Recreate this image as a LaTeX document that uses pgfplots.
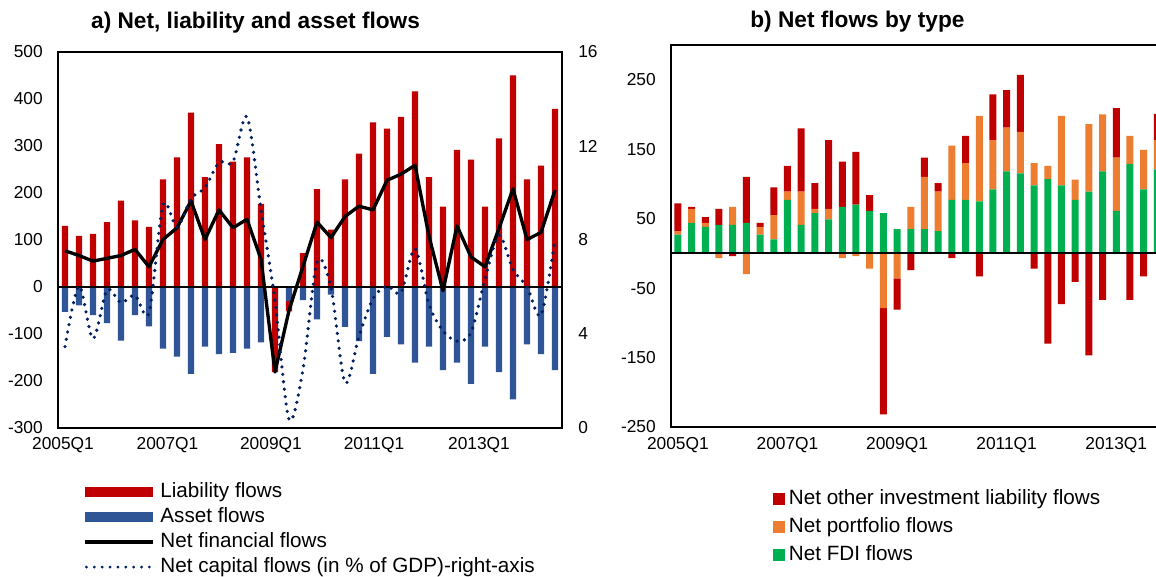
\documentclass[border=0pt]{standalone}
\usepackage{pgfplots}
\pgfplotsset{compat=1.18}
\usepackage{pgfplotstable}
\usepackage{fontspec}
\setmainfont{Liberation Sans}
\definecolor{lred}{HTML}{C00000}
\definecolor{lblue}{HTML}{2F5597}
\definecolor{lorange}{HTML}{ED7D31}
\definecolor{lgreen}{HTML}{00B050}
\definecolor{lnavy}{HTML}{002060}

\pgfplotstableread{
i liab asset net cap
0 130 -53 77 3.46
1 109 -39 67 6.04
2 113 -60 55 3.8
3 138 -77 61 5.87
4 184 -114 67 5.33
5 142 -60 80 5.65
6 128 -84 43 4.9
7 229 -131 101 9.49
8 276 -148 126 8.55
9 371 -185 183 9.76
10 234 -127 101 10.23
11 304 -143 164 11.3
12 267 -140 126 11.33
13 276 -131 144 13.25
14 177 -118 59 9.3
15 -181 0 -181 5.4
16 -22 -30 -50 0.37
17 72 -28 44 2.5
18 208 -69 138 7.06
19 122 -16 105 5.97
20 229 -85 150 1.93
21 284 -115 172 3.9
22 350 -185 164 5.5
23 337 -106 227 6.04
24 362 -122 240 5.76
25 416 -161 259 7.63
26 234 -127 108 5.26
27 171 -177 -8 4.13
28 292 -161 130 3.7
29 271 -206 64 4.06
30 171 -127 43 6.33
31 316 -181 125 8.2
32 450 -239 209 6.75
33 229 -122 101 6.01
34 258 -143 116 4.8
35 379 -177 206 8.03
}\lefttab

\pgfplotstableread{
i fdi port oth
0 27 5 40
1 44 20 3
2 38 6 8
3 41 -7 23
4 41 26 -4
5 44 -30 66
6 27 11 6
7 20 35 40
8 77 12 37
9 41 48 91
10 58 6 37
11 49 15 99
12 67 -7 65
13 70 -4 76
14 61 -22 23
15 58 -79 -153
16 35 -36 -45
17 35 32 -24
18 35 75 28
19 32 57 12
20 77 78 -7
21 77 53 39
22 75 123 -33
23 92 71 66
24 118 63 54
25 115 60 82
26 98 32 -22
27 107 19 -130
28 98 100 -73
29 77 29 -41
30 89 97 -147
31 118 82 -67
32 61 77 71
33 129 40 -67
34 92 57 -33
35 121 42 38
}\righttab

\pgfplotsset{
  basel/.style={scale only axis, width=378pt, height=282pt,
    at={(43.5pt,111.75pt)}, anchor=south west,
    xmin=-0.5, xmax=35.5, ymin=-300, ymax=500},
  baser/.style={scale only axis, width=369.9pt, height=286.5pt,
    at={(503.25pt,112.5pt)}, anchor=south west,
    xmin=-0.5, xmax=35.5, ymin=-250, ymax=300},
  ticks13/.style={major tick length=0pt,
    tick label style={font=\fontsize{13}{15}\selectfont, inner sep=0pt}},
}

\begin{document}
\begin{tikzpicture}
\path[use as bounding box] (0,0) rectangle (867pt,432.75pt);
\clip (0,0) rectangle (867pt,432.75pt);

% ---------- left panel ----------
\begin{axis}[basel, ticks13,
  axis line style={line width=1.5pt},
  ytick={-300,-200,...,500},
  yticklabels={-300,-200,-100,0,100,200,300,400,500},
  xtick={-0.14,7.32,14.71,22.07,29.57},
  xticklabels={2005Q1,2007Q1,2009Q1,2011Q1,2013Q1},
  yticklabel style={xshift=-11.25pt},
  xticklabel style={yshift=-6.75pt},
  title={a) Net, liability and asset flows},
  title style={font=\bfseries\fontsize{17}{20}\selectfont,
    at={(axis description cs:0.392,1.058)}, anchor=center, inner sep=0pt},
]
\addplot[ybar, bar width=4.7pt, bar shift=0pt, fill=lred, draw=none]
  table[x=i, y expr={max(\thisrow{liab},0)}] {\lefttab};
\end{axis}

\begin{axis}[basel, hide axis, ybar stacked, bar width=4.7pt]
\addplot[fill=lblue, draw=none] table[x=i, y=asset] {\lefttab};
\addplot[fill=lred, draw=none] table[x=i, y expr={min(\thisrow{liab},0)}] {\lefttab};
\end{axis}

\begin{axis}[basel, hide axis]
\addplot[black, line width=1pt] coordinates {(-0.5,0) (35.5,0)};
\addplot[black, line width=2.5pt, line join=round] table[x=i, y=net] {\lefttab};
\end{axis}

\begin{axis}[scale only axis, width=378pt, height=282pt,
  at={(43.5pt,111.75pt)}, anchor=south west,
  xmin=-0.5, xmax=35.5, ymin=0, ymax=16, ticks13,
  axis y line*=right, axis x line=none,
  axis line style={draw=none},
  ytick={0,4,8,12,16}, yticklabels={0,4,8,12,16},
  yticklabel style={xshift=12pt},
  legend cell align=left,
  legend style={at={(axis description cs:0.05,-0.145)}, anchor=north west,
    draw=none, fill=none, inner sep=0pt,
    font=\fontsize{15.5}{18}\selectfont, row sep=4.5pt,
    nodes={inner ysep=0pt, inner xsep=4.5pt, text height=11.2pt, text depth=3pt}},
]
\addlegendimage{fill=lred, draw=none,
  legend image code/.code={\fill (0pt,-3.75pt) rectangle (50.7pt,3.75pt);}}
\addlegendentry{Liability flows}
\addlegendimage{fill=lblue, draw=none,
  legend image code/.code={\fill (0pt,-3.75pt) rectangle (50.7pt,3.75pt);}}
\addlegendentry{Asset flows}
\addlegendimage{black, line width=2.5pt,
  legend image code/.code={\draw (0pt,0pt) -- (50.7pt,0pt);}}
\addlegendentry{Net financial flows}
\addplot[lnavy, line width=2.7pt, dash pattern=on 0pt off 5.6pt, line cap=round, smooth,
  legend image code/.code={\draw[line width=2.3pt, dash pattern=on 0pt off 5.9pt] (1pt,0pt) -- (50.7pt,0pt);}]
  table[x=i, y=cap] {\lefttab};
\addlegendentry{Net capital flows (in \% of GDP)-right-axis}
\end{axis}

% ---------- right panel ----------
\begin{axis}[baser, ticks13, ybar stacked, bar width=5.25pt,
  axis line style={line width=1.5pt},
  ytick={-250,-150,...,250},
  yticklabels={-250,-150,-50,50,150,250},
  xtick={0,8,16,24,32},
  xticklabels={2005Q1,2007Q1,2009Q1,2011Q1,2013Q1},
  yticklabel style={xshift=-11.25pt},
  xticklabel style={yshift=-7.5pt},
  title={b) Net flows by type},
  title style={font=\bfseries\fontsize{17}{20}\selectfont,
    at={(axis description cs:0.378,1.039)}, anchor=center, inner sep=0pt},
  reverse legend,
  legend cell align=left,
  legend style={at={(axis description cs:0.206,-0.163)}, anchor=north west,
    draw=none, fill=none, inner sep=0pt,
    font=\fontsize{15.5}{18}\selectfont, row sep=6.6pt,
    nodes={inner ysep=0pt, inner xsep=3pt, text height=11.2pt, text depth=3.2pt}},
]
\addplot[fill=lgreen, draw=none,
  legend image code/.code={\fill (0pt,-4.5pt) rectangle (9pt,4.5pt);}]
  table[x=i, y expr={max(\thisrow{fdi},0)}] {\righttab};
\addlegendentry{Net FDI flows}
\addplot[fill=lorange, draw=none,
  legend image code/.code={\fill (0pt,-4.5pt) rectangle (9pt,4.5pt);}]
  table[x=i, y expr={max(\thisrow{port},0)}] {\righttab};
\addlegendentry{Net portfolio flows}
\addplot[fill=lred, draw=none,
  legend image code/.code={\fill (0pt,-4.5pt) rectangle (9pt,4.5pt);}]
  table[x=i, y expr={max(\thisrow{oth},0)}] {\righttab};
\addlegendentry{Net other investment liability flows}
\end{axis}

\begin{axis}[baser, hide axis, ybar stacked, bar width=5.25pt]
\addplot[fill=lgreen, draw=none] table[x=i, y expr={min(\thisrow{fdi},0)}] {\righttab};
\addplot[fill=lorange, draw=none] table[x=i, y expr={min(\thisrow{port},0)}] {\righttab};
\addplot[fill=lred, draw=none] table[x=i, y expr={min(\thisrow{oth},0)}] {\righttab};
\end{axis}

\begin{axis}[baser, hide axis]
\addplot[black, line width=1.5pt] coordinates {(-0.5,0) (35.5,0)};
\end{axis}

\end{tikzpicture}
\end{document}
